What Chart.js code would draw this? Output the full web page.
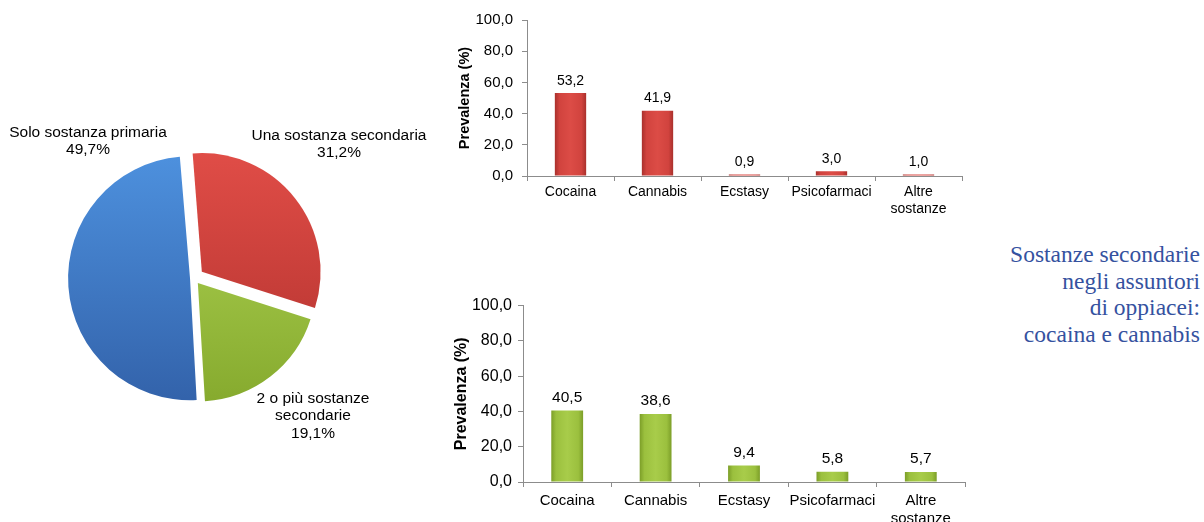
<!DOCTYPE html>
<html>
<head>
<meta charset="utf-8">
<script src="https://cdn.jsdelivr.net/npm/chart.js@4"></script>
<style>
  html, body { margin: 0; padding: 0; background: #fff; }
  body { width: 1204px; height: 522px; position: relative; overflow: hidden; }
  canvas { position: absolute; }
  #pieChart { left: 0; top: 100px; }
  #topChart { left: 440px; top: 0; }
  #bottomChart { left: 440px; top: 290px; }
  #caption {
    position: absolute; right: 4px; top: 241px;
    font-family: "Liberation Serif", "Times New Roman", serif;
    font-size: 23.5px; line-height: 26.5px;
    color: #35529f; text-align: right;
  }
</style>
</head>
<body>
<canvas id="pieChart" width="440" height="356"></canvas>
<canvas id="topChart" width="530" height="230"></canvas>
<canvas id="bottomChart" width="530" height="232"></canvas>
<div id="caption">Sostanze secondarie<br>negli assuntori<br>di oppiacei:<br>cocaina e cannabis</div>

<script>
// Pie data (clockwise from top)
const pieCategories = ['Una sostanza secondaria', '2 o più sostanze\nsecondarie', 'Solo sostanza primaria'];
const pieValues = [31.2, 19.1, 49.7];

// Bar data
const barCategories = ['Cocaina', 'Cannabis', 'Ecstasy', 'Psicofarmaci', ['Altre', 'sostanze']];
const topValues = [53.2, 41.9, 0.9, 3.0, 1.0];
const bottomValues = [40.5, 38.6, 9.4, 5.8, 5.7];
const yTicks = [0, 20, 40, 60, 80, 100];

// Label placement around the pie (offset of each text block from pie centre)
const pieLabelOffsets = [[145, -134], [119, 138], [-106, -137]];
const pieOffsets = [40, 25, 16];
const pieGradients = [
    ['#e04d47', '#b3322e'],
    ['#b0d555', '#86aa2e'],
    ['#4d90dd', '#3363ab']
];

const FONT = '"Liberation Sans", Arial, sans-serif';
Chart.defaults.font.family = FONT;
Chart.defaults.color = '#000';

function fmt(v) {
    return v.toFixed(1).replace('.', ',');
}

/**
 * Pie chart with exploded slices
 */
const pieLabelsPlugin = {
    id: 'pieLabels',
    afterDatasetsDraw(chart) {
        const arc = chart.getDatasetMeta(0).data[0];
        if (!arc) return;
        const ctx = chart.ctx;
        ctx.save();
        ctx.font = '15.5px ' + FONT;
        ctx.fillStyle = '#000';
        ctx.textAlign = 'center';
        ctx.textBaseline = 'middle';
        pieCategories.forEach((cat, i) => {
            const lines = cat.split('\n').concat([fmt(pieValues[i]) + '%']);
            const lh = 17.5;
            const cx = arc.x + pieLabelOffsets[i][0];
            const cy = arc.y + pieLabelOffsets[i][1] - (lines.length - 1) * lh / 2;
            lines.forEach((line, j) => ctx.fillText(line, cx, cy + j * lh));
        });
        ctx.restore();
    }
};

new Chart(document.getElementById('pieChart'), {
    type: 'pie',
    data: {
        labels: pieCategories,
        datasets: [{
            data: pieValues,
            backgroundColor: function(context) {
                const chart = context.chart;
                const area = chart.chartArea;
                const g = pieGradients[context.dataIndex];
                if (!area) return g[0];
                const cy = (area.top + area.bottom) / 2;
                const grad = chart.ctx.createLinearGradient(0, cy - 120, 0, cy + 120);
                grad.addColorStop(0, g[0]);
                grad.addColorStop(1, g[1]);
                return grad;
            },
            borderWidth: 0,
            offset: pieOffsets
        }]
    },
    options: {
        responsive: false,
        devicePixelRatio: 1,
        animation: false,
        events: [],
        radius: 118,
        rotation: -4.5,
        layout: { padding: { left: 0, top: 0, bottom: 0, right: 52 } },
        plugins: { legend: { display: false }, tooltip: { enabled: false } }
    },
    plugins: [pieLabelsPlugin]
});

/**
 * Bar charts
 */
const barLabelsPlugin = {
    id: 'barLabels',
    afterDatasetsDraw(chart, args, opts) {
        const ctx = chart.ctx;
        const meta = chart.getDatasetMeta(0);
        const values = chart.data.datasets[0].data;
        ctx.save();
        ctx.font = opts.size + 'px ' + FONT;
        ctx.fillStyle = '#000';
        ctx.textAlign = 'center';
        ctx.textBaseline = 'bottom';
        meta.data.forEach((bar, i) => {
            ctx.fillText(fmt(values[i]), bar.x, bar.y - 5);
        });
        ctx.restore();
    }
};

function barGradient(stops) {
    return function(context) {
        const chart = context.chart;
        const x = chart.scales.x;
        if (!x) return stops[2];
        const cx = x.getPixelForValue(context.dataIndex);
        const half = x.width / barCategories.length * 0.36 / 2;
        if (!isFinite(cx) || !isFinite(half) || half <= 0) return stops[2];
        const grad = chart.ctx.createLinearGradient(cx - half, 0, cx + half, 0);
        grad.addColorStop(0, stops[0]);
        grad.addColorStop(0.15, stops[1]);
        grad.addColorStop(0.5, stops[2]);
        grad.addColorStop(0.85, stops[1]);
        grad.addColorStop(1, stops[0]);
        return grad;
    };
}

function makeBarChart(id, values, stops, s) {
    new Chart(document.getElementById(id), {
        type: 'bar',
        data: {
            labels: barCategories,
            datasets: [{
                data: values,
                backgroundColor: barGradient(stops),
                borderWidth: 0,
                barPercentage: 0.36,
                categoryPercentage: 1
            }]
        },
        options: {
            responsive: false,
            devicePixelRatio: 1,
            animation: false,
            events: [],
            layout: { padding: { top: s.top, right: s.right, bottom: 0, left: 0 } },
            plugins: {
                legend: { display: false },
                tooltip: { enabled: false },
                barLabels: { size: s.label }
            },
            scales: {
                x: {
                    afterFit: scale => { scale.height = s.xHeight; },
                    border: { color: '#8c8c8c', width: 1 },
                    grid: { display: true, drawOnChartArea: false, tickLength: 5, color: '#8c8c8c', offset: true },
                    ticks: { font: { size: s.cat, lineHeight: s.catLh }, padding: s.catPad, maxRotation: 0, autoSkip: false }
                },
                y: {
                    min: 0,
                    max: 100,
                    afterFit: scale => { scale.width = s.yWidth; },
                    afterBuildTicks: scale => { scale.ticks = yTicks.map(v => ({ value: v })); },
                    border: { color: '#8c8c8c', width: 1 },
                    grid: { display: true, drawOnChartArea: false, tickLength: 5, color: '#8c8c8c' },
                    ticks: { font: { size: s.tick }, padding: s.tickPad, callback: v => fmt(v) },
                    title: {
                        display: true,
                        text: 'Prevalenza (%)',
                        font: { size: s.title, weight: 'bold' },
                        padding: { top: s.titlePad, bottom: 0 }
                    }
                }
            }
        },
        plugins: [barLabelsPlugin]
    });
}

makeBarChart('topChart', topValues,
    ['#a9302c', '#d1433e', '#dc4c46'],
    { top: 20, right: 8, xHeight: 54, yWidth: 87, tick: 15, tickPad: 9, cat: 14, catLh: 1.22, catPad: 3,
      label: 14, title: 14.5, titlePad: 16 });

makeBarChart('bottomChart', bottomValues,
    ['#7c9e28', '#9bc03e', '#a8cc4a'],
    { top: 14, right: 5, xHeight: 40, yWidth: 83, tick: 16, tickPad: 6, cat: 15, catLh: 1.2, catPad: 5,
      label: 15.5, title: 16, titlePad: 12 });
</script>
</body>
</html>
